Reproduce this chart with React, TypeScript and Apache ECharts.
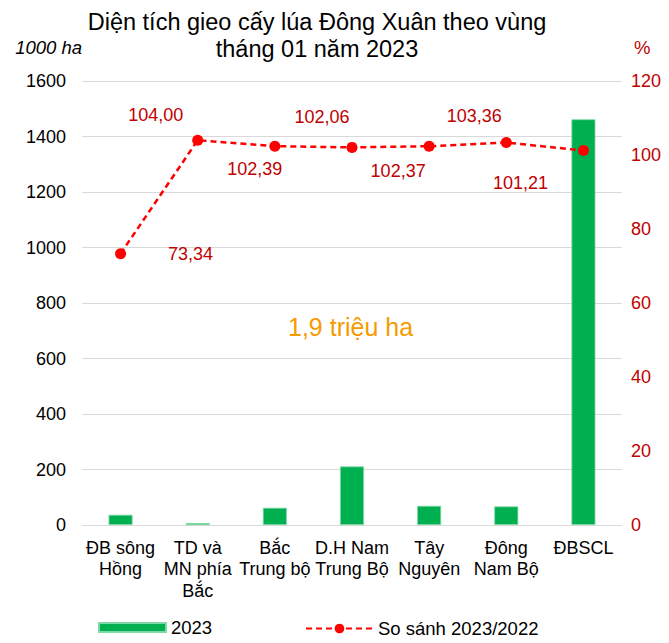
import React, { useEffect, useRef } from "react";
import * as echarts from "echarts";

const categories = [
  "ĐB sông\nHồng",
  "TD và\nMN phía\nBắc",
  "Bắc\nTrung bộ",
  "D.H Nam\nTrung Bộ",
  "Tây\nNguyên",
  "Đông\nNam Bộ",
  "ĐBSCL",
];
const area2023 = [37, 7, 62, 211, 69, 67, 1462];
const ratio = [73.34, 104.0, 102.39, 102.06, 102.37, 103.36, 101.21];
const labelOffsets: [number, number][] = [
  [70, 0],
  [-42, -25],
  [-20, 23],
  [-30, -30],
  [-31, 25],
  [-32, -27],
  [-63, 32],
];

const FONT = "Liberation Sans, Arial, sans-serif";

export default function App() {
  const ref = useRef<HTMLDivElement>(null);
  useEffect(() => {
    document.body.style.margin = "0";
    const chart = echarts.init(ref.current!, undefined, { renderer: "svg" });
    chart.setOption({
      animation: false,
      textStyle: { fontFamily: FONT },
      title: {
        text: "Diện tích gieo cấy lúa Đông Xuân theo vùng\ntháng 01 năm 2023",
        left: 312,
        textAlign: "center",
        top: 3,
        textStyle: { fontSize: 23.5, fontWeight: "normal", color: "#000", lineHeight: 27, fontFamily: FONT },
      },
      grid: { left: 82, right: 47, top: 81, bottom: 118 },
      legend: [
        {
          bottom: 1,
          left: 93,
          itemWidth: 67,
          itemHeight: 9,
          textStyle: { fontSize: 18.5, color: "#000", fontFamily: FONT },
          data: [{ name: "2023", icon: "rect" }],
        },
        {
          bottom: 0,
          left: 300,
          itemWidth: 67,
          itemHeight: 12,
          textStyle: { fontSize: 18.5, color: "#000", fontFamily: FONT },
          data: [{ name: "So sánh 2023/2022" }],
        },
      ],
      xAxis: {
        type: "category",
        data: categories,
        axisTick: { show: false },
        axisLine: { lineStyle: { color: "#D9D9D9" } },
        axisLabel: { fontSize: 18, color: "#000", lineHeight: 21.5, interval: 0, margin: 12, fontFamily: FONT },
      },
      yAxis: [
        {
          type: "value",
          min: 0,
          max: 1600,
          interval: 200,
          name: "1000 ha",
          nameLocation: "end",
          nameGap: 24,
          nameTextStyle: { fontStyle: "italic", fontSize: 18.5, color: "#000", align: "right", padding: [0, 0, 0, 0], fontFamily: FONT },
          axisLabel: { fontSize: 18, color: "#000", margin: 16, fontFamily: FONT, formatter: (v: number) => String(v) },
          axisLine: { show: false },
          axisTick: { show: false },
          splitLine: { lineStyle: { color: "#D9D9D9" } },
        },
        {
          type: "value",
          min: 0,
          max: 120,
          interval: 20,
          name: "%",
          nameLocation: "end",
          nameGap: 24,
          nameTextStyle: { fontSize: 18.5, color: "#C00000", align: "left", padding: [0, 0, 0, 12], fontFamily: FONT },
          axisLabel: { fontSize: 18, color: "#C00000", margin: 9, fontFamily: FONT },
          axisLine: { show: false },
          axisTick: { show: false },
          splitLine: { show: false },
        },
      ],
      series: [
        {
          name: "2023",
          type: "bar",
          data: area2023,
          barWidth: 24,
          itemStyle: { color: "#00B050", borderColor: "#7FD8A7", borderWidth: 0.8 },
        },
        {
          name: "So sánh 2023/2022",
          type: "line",
          yAxisIndex: 1,
          data: ratio.map((v, i) => ({
            value: v,
            label: {
              show: true,
              position: "inside",
              offset: labelOffsets[i],
            },
          })),
          symbol: "circle",
          symbolSize: 11,
          lineStyle: { color: "#FF0000", type: [6, 4], width: 2.5 },
          itemStyle: { color: "#FF0000" },
          label: {
            show: true,
            fontSize: 18,
            color: "#C00000",
            fontFamily: FONT,
            formatter: (p: any) => p.value.toFixed(2).replace(".", ","),
          },
        },
      ],
      graphic: [
        {
          type: "text",
          left: 288,
          top: 314,
          style: { text: "1,9 triệu ha", fontSize: 25, fill: "#F59B00", fontFamily: FONT },
        },
      ],
    });
    return () => chart.dispose();
  }, []);
  return <div ref={ref} style={{ width: 669, height: 643 }} />;
}
